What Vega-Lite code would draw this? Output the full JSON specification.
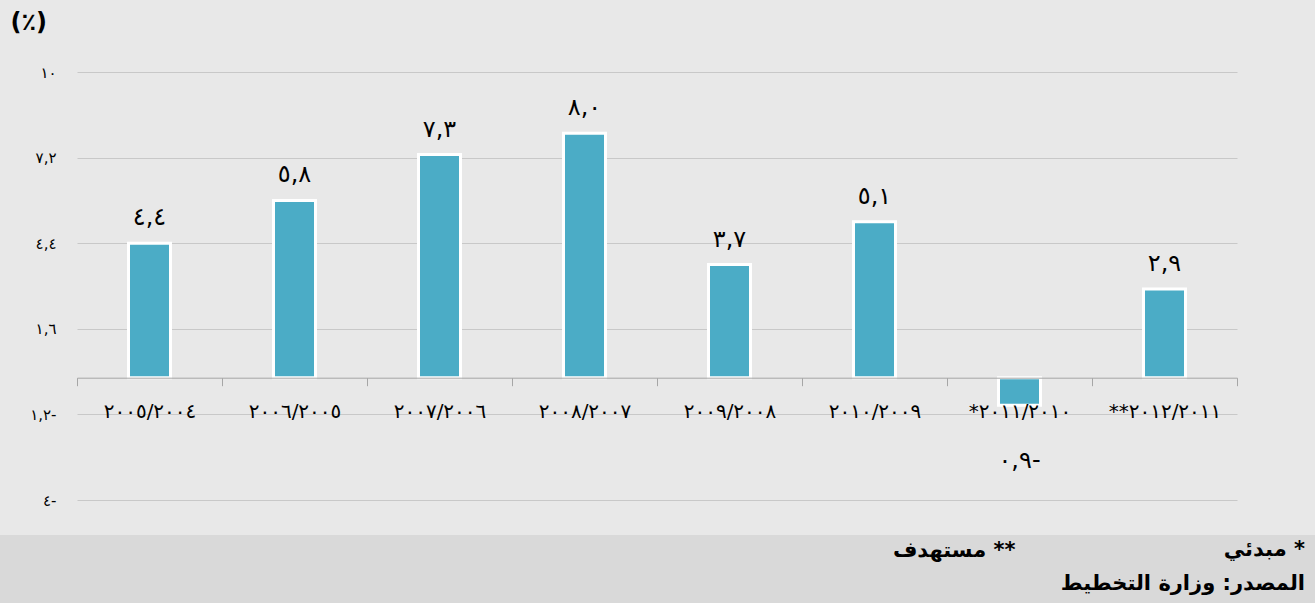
{
  "$schema": "https://vega.github.io/schema/vega-lite/v6.json",
  "width": 1315,
  "height": 603,
  "autosize": {"type": "none"},
  "padding": 0,
  "background": "#e8e8e8",
  "config": {"view": {"stroke": null}, "font": "DejaVu Sans"},
  "title": {
    "text": "مبدئي *",
    "subtitle": "المصدر: وزارة التخطيط",
    "orient": "bottom",
    "anchor": "end",
    "frame": "group",
    "offset": -65,
    "dx": -10,
    "font": "DejaVu Sans",
    "fontSize": 21,
    "fontWeight": "bold",
    "color": "black",
    "subtitleFont": "DejaVu Sans",
    "subtitleFontSize": 21,
    "subtitleFontWeight": "bold",
    "subtitleColor": "black",
    "subtitlePadding": 13
  },
  "datasets": {
    "bars": [
      {"period": "٢٠٠٥/٢٠٠٤", "value": 4.4, "label": "٤,٤"},
      {"period": "٢٠٠٦/٢٠٠٥", "value": 5.8, "label": "٥,٨"},
      {"period": "٢٠٠٧/٢٠٠٦", "value": 7.3, "label": "٧,٣"},
      {"period": "٢٠٠٨/٢٠٠٧", "value": 8.0, "label": "٨,٠"},
      {"period": "٢٠٠٩/٢٠٠٨", "value": 3.7, "label": "٣,٧"},
      {"period": "٢٠١٠/٢٠٠٩", "value": 5.1, "label": "٥,١"},
      {"period": "*٢٠١١/٢٠١٠", "value": -0.9, "label": "٠,٩-"},
      {"period": "**٢٠١٢/٢٠١١", "value": 2.9, "label": "٢,٩"}
    ],
    "band": [{"value": -5.145, "bottom": -7.4}]
  },
  "layer": [
    {
      "data": {"name": "bars"},
      "mark": {"type": "bar", "width": 42, "color": "#4bacc6", "stroke": "white", "strokeWidth": 3},
      "encoding": {
        "x": {
          "field": "period", "type": "nominal", "sort": null,
          "scale": {"range": [77, 1237], "paddingInner": 0, "paddingOuter": 0},
          "axis": {
            "title": "مستهدف **",
            "titleX": 1015, "titleY": 173, "titleAlign": "right", "titleBaseline": "middle",
            "titleFont": "DejaVu Sans", "titleFontSize": 21, "titleFontWeight": "bold", "titleColor": "black",
            "offset": -225.3, "zindex": 1,
            "tickBand": "extent", "tickSize": 8, "tickColor": "#a6a6a6", "domainColor": "#a6a6a6",
            "labelAngle": 0, "labelFontSize": 20, "labelColor": "black", "labelPadding": 16,
            "labelFont": "DejaVu Sans", "grid": false
          }
        },
        "y": {
          "field": "value", "type": "quantitative",
          "scale": {"domain": [-4, 10], "range": [500, 72], "nice": false, "zero": false},
          "axis": {
            "values": [-4, -1.2, 1.6, 4.4, 7.2, 10],
            "labelExpr": "datum.value > 9 ? '١٠' : datum.value > 7 ? '٧,٢' : datum.value > 4 ? '٤,٤' : datum.value > 1 ? '١,٦' : datum.value > -2 ? '١,٢-' : '٤-'",
            "offset": -77, "ticks": false, "domain": false,
            "grid": true, "gridColor": "#c8c8c8",
            "labelPadding": 21, "labelFontSize": 15, "labelColor": "black", "labelFont": "DejaVu Sans",
            "title": "(٪)", "titleAngle": 0, "titleX": -67, "titleY": 22,
            "titleAlign": "left", "titleBaseline": "middle",
            "titleFontSize": 24, "titleFontWeight": "bold", "titleColor": "black", "titleFont": "DejaVu Sans"
          }
        }
      }
    },
    {
      "data": {"name": "band"},
      "mark": {"type": "rect", "color": "#d9d9d9"},
      "encoding": {
        "y": {"field": "value", "type": "quantitative",
              "scale": {"domain": [-4, 10], "range": [500, 72], "nice": false, "zero": false}},
        "y2": {"field": "bottom"}
      }
    },
    {
      "data": {"name": "bars"},
      "transform": [{"filter": "datum.value >= 0"}],
      "mark": {"type": "text", "baseline": "bottom", "dy": -13, "fontSize": 24, "color": "black", "font": "DejaVu Sans"},
      "encoding": {
        "x": {"field": "period", "type": "nominal", "sort": null},
        "y": {"field": "value", "type": "quantitative",
              "scale": {"domain": [-4, 10], "range": [500, 72], "nice": false, "zero": false}},
        "text": {"field": "label"}
      }
    },
    {
      "data": {"name": "bars"},
      "transform": [{"filter": "datum.value < 0"}],
      "mark": {"type": "text", "baseline": "top", "dy": 44, "fontSize": 24, "color": "black", "font": "DejaVu Sans"},
      "encoding": {
        "x": {"field": "period", "type": "nominal", "sort": null},
        "y": {"field": "value", "type": "quantitative",
              "scale": {"domain": [-4, 10], "range": [500, 72], "nice": false, "zero": false}},
        "text": {"field": "label"}
      }
    }
  ]
}
